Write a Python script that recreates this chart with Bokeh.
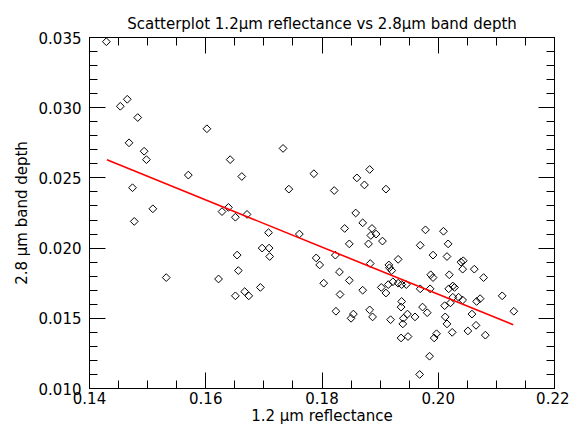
from bokeh.plotting import figure
from bokeh.models import LinearAxis, FixedTicker, NumeralTickFormatter, Range1d, ColumnDataSource
from bokeh.embed import file_html
from bokeh.resources import INLINE

# --- data ---
reflectance = [
    0.1429, 0.1453, 0.1465, 0.1483, 0.1468, 0.1494, 0.1498, 0.1570, 0.1602, 0.1642,
    0.1662, 0.1474, 0.1509, 0.1477, 0.1532, 0.1628, 0.1639, 0.1651, 0.1671, 0.1708,
    0.1743, 0.1697, 0.1709, 0.1710, 0.1654, 0.1656, 0.1622, 0.1694, 0.1667, 0.1674,
    0.1651, 0.1733, 0.1786, 0.1882, 0.1860, 0.1873, 0.1821, 0.1910, 0.1858, 0.1870,
    0.1839, 0.1886, 0.1884, 0.1893, 0.1847, 0.1880, 0.1904, 0.1978, 0.1969, 0.1761,
    0.1790, 0.1796, 0.1823, 0.1883, 0.1931, 0.1915, 0.1916, 0.1920, 0.1830, 0.1803,
    0.1847, 0.1870, 0.1831, 0.1902, 0.1910, 0.1914, 0.1922, 0.1931, 0.1937, 0.1945,
    0.1969, 0.1937, 0.1936, 0.1947, 0.1940, 0.1939, 0.1960, 0.1918, 0.1882, 0.1887,
    0.1854, 0.1850, 0.1824, 0.1936, 0.1948, 0.1973, 0.1981, 0.1985, 0.1968, 0.2009,
    0.2017, 0.1991, 0.2015, 0.2039, 0.2043, 0.2042, 0.2062, 0.2078, 0.1987, 0.1991,
    0.2019, 0.2025, 0.2028, 0.2018, 0.1986, 0.2025, 0.2035, 0.2042, 0.2021, 0.2011,
    0.2066, 0.2072, 0.2110, 0.2130, 0.2058, 0.2012, 0.2015, 0.2065, 0.2051, 0.2024,
    0.2081, 0.1997, 0.1993,
]
band_depth = [
    0.0347, 0.0301, 0.0306, 0.0293, 0.0275, 0.0269, 0.0263, 0.0252, 0.0285, 0.0263,
    0.0251, 0.0243, 0.0228, 0.0219, 0.0179, 0.0226, 0.0229, 0.0222, 0.0224, 0.0211,
    0.0242, 0.0200, 0.0200, 0.0194, 0.0195, 0.0184, 0.0178, 0.0172, 0.0169, 0.0166,
    0.0166, 0.0271, 0.0253, 0.0256, 0.0250, 0.0245, 0.0241, 0.0242, 0.0225, 0.0218,
    0.0214, 0.0214, 0.0209, 0.0210, 0.0203, 0.0203, 0.0205, 0.0213, 0.0202, 0.0210,
    0.0193, 0.0188, 0.0195, 0.0189, 0.0192, 0.0188, 0.0186, 0.0184, 0.0183, 0.0175,
    0.0177, 0.0170, 0.0167, 0.0172, 0.0168, 0.0174, 0.0176, 0.0175, 0.0174, 0.0174,
    0.0171, 0.0162, 0.0158, 0.0153, 0.0150, 0.0146, 0.0151, 0.0149, 0.0156, 0.0151,
    0.0153, 0.0150, 0.0155, 0.0136, 0.0137, 0.0158, 0.0154, 0.0123, 0.0110, 0.0212,
    0.0203, 0.0195, 0.0194, 0.0190, 0.0191, 0.0185, 0.0185, 0.0179, 0.0181, 0.0179,
    0.0181, 0.0173, 0.0172, 0.0171, 0.0171, 0.0165, 0.0165, 0.0163, 0.0161, 0.0159,
    0.0162, 0.0164, 0.0166, 0.0155, 0.0153, 0.0151, 0.0146, 0.0145, 0.0141, 0.0140,
    0.0138, 0.0139, 0.0136,
]
# fitted line end points
fit_x = [0.1430, 0.2129]
fit_y = [0.02629, 0.01454]

x_ticks = [0.14, 0.16, 0.18, 0.20, 0.22]
x_minor = [0.145, 0.15, 0.155, 0.165, 0.17, 0.175, 0.185, 0.19, 0.195, 0.205, 0.21, 0.215]
y_ticks = [0.010, 0.015, 0.020, 0.025, 0.030, 0.035]
y_minor = [0.011, 0.012, 0.013, 0.014, 0.016, 0.017, 0.018, 0.019, 0.021, 0.022, 0.023,
           0.024, 0.026, 0.027, 0.028, 0.029, 0.031, 0.032, 0.033, 0.034]

FONT = "DejaVu Sans"
FS = "15px"

p = figure(width=569, height=427, output_backend="svg", toolbar_location=None,
           x_range=Range1d(0.14, 0.22), y_range=Range1d(0.010, 0.035),
           title="Scatterplot 1.2\u00b5m reflectance vs 2.8\u00b5m band depth",
           min_border_left=89, min_border_right=15, min_border_top=37, min_border_bottom=38)
p.grid.visible = False
p.outline_line_color = "black"
p.background_fill_color = "white"
p.border_fill_color = "white"
p.title.align = "center"
p.title.text_font = FONT
p.title.text_font_size = FS
p.title.text_font_style = "normal"
p.title.text_color = "black"

def style_axis(ax, ticks, minor, fmt, labels=True):
    ax.ticker = FixedTicker(ticks=ticks, minor_ticks=minor)
    ax.formatter = NumeralTickFormatter(format=fmt)
    ax.major_tick_in = 16
    ax.major_tick_out = 0
    ax.minor_tick_in = 8
    ax.minor_tick_out = 0
    ax.axis_line_color = "black"
    ax.major_tick_line_color = "black"
    ax.minor_tick_line_color = "black"
    ax.major_label_text_font = FONT
    if labels:
        ax.major_label_text_font_size = FS
        ax.major_label_text_color = "black"
    else:
        ax.major_label_text_font_size = "1px"
        ax.major_label_text_color = None
    ax.axis_label_text_font = FONT
    ax.axis_label_text_font_size = FS
    ax.axis_label_text_font_style = "normal"
    ax.axis_label_text_color = "black"

xa = p.xaxis[0]
style_axis(xa, x_ticks, x_minor, "0.00")
xa.axis_label = "1.2 \u00b5m reflectance"
xa.major_label_standoff = 3
xa.axis_label_standoff = 0

ya = p.yaxis[0]
style_axis(ya, y_ticks, y_minor, "0.000")
ya.axis_label = "2.8 \u00b5m band depth"
ya.major_label_standoff = 8
ya.axis_label_standoff = 5
ya.major_label_orientation = "horizontal"

top = LinearAxis()
style_axis(top, x_ticks, x_minor, "0.00", labels=False)
top.major_label_standoff = 0
p.add_layout(top, "above")

right = LinearAxis()
style_axis(right, y_ticks, y_minor, "0.000", labels=False)
right.major_label_standoff = 0
p.add_layout(right, "right")

src = ColumnDataSource(dict(x=reflectance, y=band_depth))
p.scatter("x", "y", source=src, marker="square", angle=0.785398, size=5.5,
          fill_color=None, line_color="black", line_width=1)
p.line(fit_x, fit_y, line_color="red", line_width=1.6)

open("out.html", "w").write(file_html(p, INLINE))
